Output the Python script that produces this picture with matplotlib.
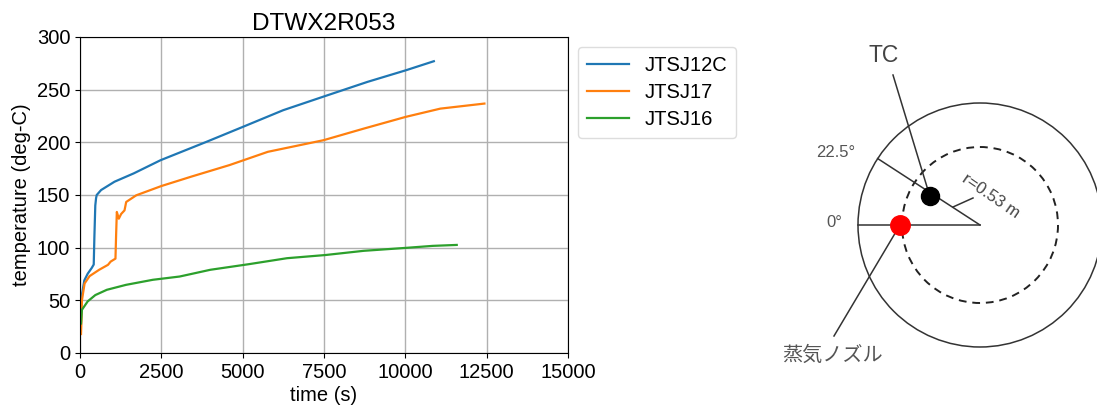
import numpy as np
import matplotlib
matplotlib.use("Agg")
import matplotlib.pyplot as plt
from matplotlib.patches import Circle

plt.rcParams['font.family'] = ['Liberation Sans', 'DejaVu Sans']

# ---------------- data ----------------
t_12c = [31, 62, 134, 237, 360, 422, 442, 470, 494, 514, 648, 1060, 1650, 2474, 3889, 5008, 6245, 7541, 8837, 10016, 10876]
v_12c = [43.7, 56, 69, 75.3, 80.7, 84, 110, 140, 147, 150, 154.7, 162.6, 170.5, 183, 200.5, 214.7, 230.5, 244, 257.4, 268.4, 277]

t_17 = [31, 45, 59, 141, 295, 589, 860, 943, 1090, 1110, 1132, 1193, 1265, 1368, 1420, 1728, 2500, 3417, 4595, 5774, 7482, 8719, 10016, 11076, 12431]
v_17 = [18, 30, 50, 66, 73, 79, 83.7, 86.8, 89.6, 112, 133.9, 127.5, 132, 135.4, 143.4, 149.7, 158.5, 167.4, 178.4, 191, 202, 213, 224.2, 232, 236.8]

t_16 = [31, 59, 236, 471, 825, 1414, 2239, 3063, 4006, 5185, 6363, 7541, 8719, 10016, 10841, 11580]
v_16 = [28, 41, 49, 55, 60, 64.7, 69.5, 72.6, 79, 84.3, 90, 93, 97, 99.8, 101.7, 102.6]

series_names = ['JTSJ12C', 'JTSJ17', 'JTSJ16']
x_ticks = [0, 2500, 5000, 7500, 10000, 12500, 15000]
y_ticks = [0, 50, 100, 150, 200, 250, 300]

# ---------------- figure ----------------
W, H = 1097, 411
fig = plt.figure(figsize=(W / 100, H / 100), dpi=100)

FS = 14.5
ax = fig.add_axes([80 / W, 1 - 353 / H, (568 - 80) / W, (353 - 37) / H])
ax.plot(t_12c, v_12c, color='#1f77b4', lw=1.6, label=series_names[0])
ax.plot(t_17, v_17, color='#ff7f0e', lw=1.6, label=series_names[1])
ax.plot(t_16, v_16, color='#2ca02c', lw=1.6, label=series_names[2])
ax.set_xlim(0, 15000)
ax.set_ylim(0, 300)
ax.set_xticks(x_ticks)
ax.set_yticks(y_ticks)
ax.tick_params(labelsize=FS)
ax.grid(True, color='#b0b0b0', lw=1.0)
ax.set_axisbelow(True)
ax.set_xlabel('time (s)', fontsize=FS, labelpad=3)
ax.set_ylabel('temperature (deg-C)', fontsize=FS, labelpad=4)
ax.set_title('DTWX2R053', fontsize=17.6, pad=5)
ax.legend(loc='upper left', bbox_to_anchor=(1.0, 1.0), fontsize=FS,
          handlelength=2.1, handletextpad=0.75, borderpad=0.45, labelspacing=0.4,
          borderaxespad=0.5, framealpha=1.0, edgecolor='#dddddd')

# ---------------- diagram ----------------
dx0, dx1 = 760, W
dax = fig.add_axes([dx0 / W, 0, (dx1 - dx0) / W, 1])
dax.set_xlim(dx0, dx1)
dax.set_ylim(H, 0)
dax.axis('off')

cx, cy = 980, 225
R_out = 122
R_dash = 78
ang_225 = np.deg2rad(33)
lc = '#333333'

dax.add_patch(Circle((cx, cy), R_out, fill=False, ec=lc, lw=1.1))
dax.add_patch(Circle((cx, cy), R_dash, fill=False, ec='#222222', lw=1.4, ls=(0, (4, 3))))

# 0 deg line
dax.plot([cx - R_out, cx], [cy, cy], color=lc, lw=1.1)
# 22.5 deg line
dax.plot([cx - R_out * np.cos(ang_225), cx], [cy - R_out * np.sin(ang_225), cy], color=lc, lw=1.1)

# nozzle (red) and TC (black)
nz = (cx - 80, cy)
tc_ang = np.deg2rad(30)
tc = (cx - 58 * np.cos(tc_ang), cy - 58 * np.sin(tc_ang))

dax.plot([893, tc[0]], [75, tc[1]], color=lc, lw=1.1)
dax.plot([834, nz[0]], [336, nz[1]], color=lc, lw=1.1)
dax.plot([953, 973], [207, 198], color=lc, lw=1.1)

dax.plot([tc[0]], [tc[1]], 'o', color='black', ms=13)
dax.plot([nz[0]], [nz[1]], 'o', color='#ff0000', ms=14)

tcol = '#555555'
dax.text(884, 55, 'TC', fontsize=16.5, color='#444444', ha='center', va='center')
dax.text(836, 152, '22.5°', fontsize=12, color=tcol, ha='center', va='center')
dax.text(834, 222.5, '0°', fontsize=12, color=tcol, ha='center', va='center')
dax.text(991, 196, 'r=0.53 m', fontsize=12, color='#444444', ha='center', va='center',
         rotation=-34.6, rotation_mode='anchor')
dax.text(832.5, 355, '蒸気ノズル', fontsize=14.5, color=tcol, ha='center', va='center',
         family=['Noto Sans CJK JP', 'DejaVu Sans'])

fig.savefig('out.png', dpi=100)
